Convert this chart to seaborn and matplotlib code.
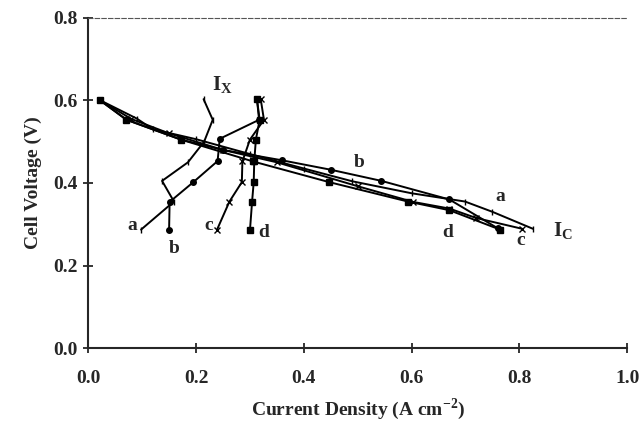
import pandas as pd
import seaborn as sns
import matplotlib.pyplot as plt

# I_X curves (a-d)
ix_a_x = [0.214, 0.231, 0.215, 0.185, 0.137, 0.159, 0.098]
ix_a_y = [0.603, 0.553, 0.500, 0.450, 0.405, 0.355, 0.287]
ix_b_x = [0.313, 0.317, 0.244, 0.240, 0.195, 0.151, 0.150]
ix_b_y = [0.603, 0.553, 0.507, 0.453, 0.402, 0.354, 0.285]
ix_c_x = [0.320, 0.326, 0.300, 0.286, 0.285, 0.262, 0.239]
ix_c_y = [0.603, 0.553, 0.505, 0.452, 0.402, 0.355, 0.287]
ix_d_x = [0.313, 0.318, 0.311, 0.308, 0.307, 0.304, 0.300]
ix_d_y = [0.603, 0.553, 0.505, 0.452, 0.402, 0.355, 0.285]

# I_C curves (a-d)
ic_a_x = [0.021, 0.090, 0.120, 0.200, 0.300, 0.400, 0.490, 0.600, 0.699, 0.750, 0.825]
ic_a_y = [0.601, 0.556, 0.530, 0.506, 0.470, 0.435, 0.404, 0.375, 0.355, 0.330, 0.289]
ic_b_x = [0.021, 0.071, 0.172, 0.250, 0.359, 0.450, 0.544, 0.670, 0.760]
ic_b_y = [0.601, 0.553, 0.505, 0.480, 0.455, 0.432, 0.405, 0.360, 0.290]
ic_c_x = [0.021, 0.080, 0.150, 0.250, 0.350, 0.500, 0.603, 0.670, 0.720, 0.805]
ic_c_y = [0.601, 0.555, 0.520, 0.480, 0.450, 0.392, 0.354, 0.338, 0.315, 0.289]
ic_d_x = [0.021, 0.071, 0.172, 0.306, 0.447, 0.593, 0.670, 0.764]
ic_d_y = [0.601, 0.553, 0.505, 0.452, 0.402, 0.355, 0.334, 0.287]

curves = {
    "ix_a": (ix_a_x, ix_a_y, "|"), "ix_b": (ix_b_x, ix_b_y, "o"),
    "ix_c": (ix_c_x, ix_c_y, "x"), "ix_d": (ix_d_x, ix_d_y, "s"),
    "ic_a": (ic_a_x, ic_a_y, "|"), "ic_b": (ic_b_x, ic_b_y, "o"),
    "ic_c": (ic_c_x, ic_c_y, "x"), "ic_d": (ic_d_x, ic_d_y, "s"),
}

sns.set_style("ticks")
plt.rcParams["font.family"] = ["Liberation Serif", "DejaVu Serif"]
plt.rcParams["font.weight"] = "bold"
plt.rcParams["mathtext.fontset"] = "custom"
plt.rcParams["mathtext.rm"] = "Liberation Serif:bold"
plt.rcParams["mathtext.bf"] = "Liberation Serif:bold"

fig = plt.figure(figsize=(6.44, 4.24), dpi=100)
ax = fig.add_axes([0.137, 0.179, 0.837, 0.779])

for name, (xs, ys, mk) in curves.items():
    df = pd.DataFrame({"x": xs, "y": ys})
    sns.lineplot(data=df, x="x", y="y", sort=False, estimator=None, ax=ax,
                 color="black", linewidth=1.4, marker=mk, markersize=4,
                 markeredgecolor="black", markeredgewidth=1.0)

labels = [
    ("a", 0.081, 0.297), ("b", 0.160, 0.241), ("c", 0.223, 0.297), ("d", 0.326, 0.279),
    ("b", 0.502, 0.450), ("a", 0.765, 0.367), ("d", 0.666, 0.281), ("c", 0.803, 0.261),
]
for t, x, y in labels:
    ax.text(x, y, t, fontsize=14, fontweight="bold", ha="center", va="center")
ax.text(0.249, 0.637, r"I$_\mathrm{X}$", fontsize=15, ha="center", va="center")
ax.text(0.880, 0.283, r"I$_\mathrm{C}$", fontsize=15, ha="center", va="center")

ax.set_xlim(0, 1.0)
ax.set_ylim(0, 0.8)
ax.set_xticks([0.0, 0.2, 0.4, 0.6, 0.8, 1.0])
ax.set_yticks([0.0, 0.2, 0.4, 0.6, 0.8])
ax.set_xticklabels(["0.0", "0.2", "0.4", "0.6", "0.8", "1.0"])
ax.set_yticklabels(["0.0", "0.2", "0.4", "0.6", "0.8"])
ax.tick_params(labelsize=14, width=1.3, length=7, direction="inout")
ax.tick_params(axis="x", pad=12)
ax.tick_params(axis="y", pad=4)
for lab in ax.get_xticklabels() + ax.get_yticklabels():
    lab.set_fontweight("bold")
ax.set_xlabel("Current Density (A cm$^{-2}$)", fontsize=14, fontweight="bold", labelpad=7)
ax.set_ylabel("Cell Voltage (V)", fontsize=14, fontweight="bold", labelpad=8)

ax.spines["left"].set_linewidth(1.5)
ax.spines["bottom"].set_linewidth(1.5)
ax.spines["top"].set_linestyle((0, (4, 2)))
ax.spines["top"].set_linewidth(0.8)
ax.spines["top"].set_color("#555555")
ax.spines["right"].set_visible(False)

fig.savefig("out.png", dpi=100)
